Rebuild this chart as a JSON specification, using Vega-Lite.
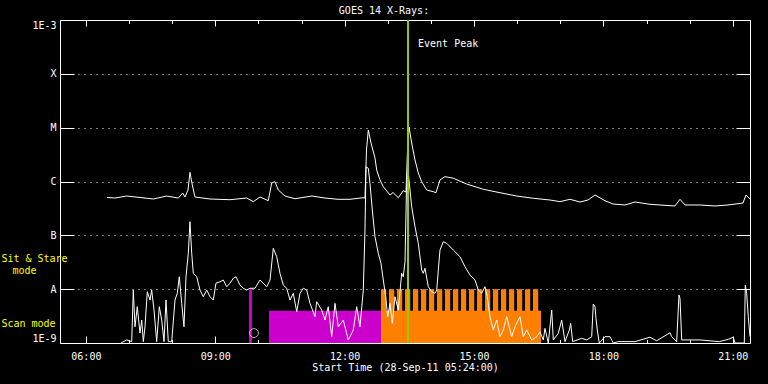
{
  "$schema": "https://vega.github.io/schema/vega-lite/v6.json",
  "width": 690,
  "height": 323,
  "autosize": "none",
  "padding": {"left": 60, "top": 20, "right": 18, "bottom": 41},
  "background": "black",
  "config": {
    "view": {"stroke": "white", "strokeWidth": 1},
    "font": "DejaVu Sans Mono",
    "axis": {"labelColor": "white", "tickColor": "white", "titleColor": "white", "labelFont": "DejaVu Sans Mono", "titleFont": "DejaVu Sans Mono", "labelFontSize": 10, "titleFontSize": 10, "titleFontWeight": "normal", "domain": false, "grid": false, "tickWidth": 1}
  },
  "title": {"text": "GOES 14 X-Rays:", "color": "white", "fontSize": 10, "fontWeight": "normal", "font": "DejaVu Sans Mono", "anchor": "middle", "offset": 3, "dx": -21},
  "datasets": {
    "flux": [
      {"ch": "long", "t": 6.490, "f": 5.05e-7}, {"ch": "long", "t": 6.675, "f": 4.93e-7}, {"ch": "long", "t": 6.947, "f": 5.37e-7}, {"ch": "long", "t": 7.255, "f": 5.05e-7}, {"ch": "long", "t": 7.563, "f": 4.73e-7}, {"ch": "long", "t": 7.874, "f": 5.37e-7}, {"ch": "long", "t": 8.143, "f": 4.93e-7}, {"ch": "long", "t": 8.245, "f": 6.11e-7}, {"ch": "long", "t": 8.299, "f": 5.15e-7}, {"ch": "long", "t": 8.368, "f": 6.95e-7}, {"ch": "long", "t": 8.414, "f": 1.48e-6}, {"ch": "long", "t": 8.468, "f": 8.61e-7}, {"ch": "long", "t": 8.530, "f": 5.15e-7}, {"ch": "long", "t": 8.878, "f": 4.73e-7}, {"ch": "long", "t": 9.342, "f": 4.59e-7}, {"ch": "long", "t": 9.729, "f": 4.93e-7}, {"ch": "long", "t": 9.882, "f": 4.22e-7}, {"ch": "long", "t": 10.038, "f": 5.15e-7}, {"ch": "long", "t": 10.230, "f": 4.40e-7}, {"ch": "long", "t": 10.309, "f": 9.38e-7}, {"ch": "long", "t": 10.385, "f": 9.91e-7}, {"ch": "long", "t": 10.462, "f": 6.95e-7}, {"ch": "long", "t": 10.617, "f": 5.37e-7}, {"ch": "long", "t": 10.849, "f": 4.79e-7}, {"ch": "long", "t": 11.243, "f": 5.37e-7}, {"ch": "long", "t": 11.545, "f": 4.93e-7}, {"ch": "long", "t": 11.846, "f": 4.67e-7}, {"ch": "long", "t": 12.125, "f": 4.67e-7}, {"ch": "long", "t": 12.426, "f": 5.00e-7}, {"ch": "long", "t": 12.472, "f": 4.93e-7}, {"ch": "long", "t": 12.507, "f": 3.85e-6}, {"ch": "long", "t": 12.549, "f": 9.04e-6}, {"ch": "long", "t": 12.612, "f": 5.19e-6}, {"ch": "long", "t": 12.704, "f": 2.73e-6}, {"ch": "long", "t": 12.744, "f": 1.63e-6}, {"ch": "long", "t": 12.820, "f": 1.07e-6}, {"ch": "long", "t": 12.897, "f": 8.00e-7}, {"ch": "long", "t": 13.052, "f": 5.61e-7}, {"ch": "long", "t": 13.122, "f": 6.24e-7}, {"ch": "long", "t": 13.245, "f": 5.00e-7}, {"ch": "long", "t": 13.360, "f": 6.75e-7}, {"ch": "long", "t": 13.423, "f": 6.38e-7}, {"ch": "long", "t": 13.458, "f": 3.85e-6}, {"ch": "long", "t": 13.493, "f": 1.03e-5}, {"ch": "long", "t": 13.555, "f": 5.19e-6}, {"ch": "long", "t": 13.632, "f": 2.51e-6}, {"ch": "long", "t": 13.708, "f": 1.44e-6}, {"ch": "long", "t": 13.787, "f": 9.91e-7}, {"ch": "long", "t": 13.903, "f": 6.95e-7}, {"ch": "long", "t": 14.056, "f": 6.46e-7}, {"ch": "long", "t": 14.119, "f": 6.19e-7}, {"ch": "long", "t": 14.211, "f": 1.07e-6}, {"ch": "long", "t": 14.327, "f": 1.23e-6}, {"ch": "long", "t": 14.520, "f": 1.15e-6}, {"ch": "long", "t": 14.831, "f": 8.97e-7}, {"ch": "long", "t": 15.216, "f": 7.16e-7}, {"ch": "long", "t": 15.603, "f": 6.19e-7}, {"ch": "long", "t": 15.990, "f": 5.37e-7}, {"ch": "long", "t": 16.375, "f": 4.88e-7}, {"ch": "long", "t": 16.762, "f": 4.53e-7}, {"ch": "long", "t": 16.994, "f": 4.22e-7}, {"ch": "long", "t": 17.226, "f": 4.67e-7}, {"ch": "long", "t": 17.458, "f": 4.16e-7}, {"ch": "long", "t": 17.643, "f": 4.53e-7}, {"ch": "long", "t": 17.806, "f": 5.61e-7}, {"ch": "long", "t": 18.037, "f": 4.40e-7}, {"ch": "long", "t": 18.223, "f": 3.82e-7}, {"ch": "long", "t": 18.501, "f": 3.66e-7}, {"ch": "long", "t": 18.733, "f": 4.16e-7}, {"ch": "long", "t": 19.081, "f": 3.77e-7}, {"ch": "long", "t": 19.429, "f": 3.61e-7}, {"ch": "long", "t": 19.661, "f": 3.51e-7}, {"ch": "long", "t": 19.777, "f": 4.67e-7}, {"ch": "long", "t": 19.893, "f": 3.66e-7}, {"ch": "long", "t": 20.240, "f": 3.66e-7}, {"ch": "long", "t": 20.588, "f": 3.51e-7}, {"ch": "long", "t": 20.890, "f": 3.66e-7}, {"ch": "long", "t": 21.237, "f": 3.98e-7}, {"ch": "long", "t": 21.307, "f": 5.61e-7}, {"ch": "long", "t": 21.400, "f": 4.73e-7},
      {"ch": "short", "t": 6.815, "f": 1.0e-9}, {"ch": "short", "t": 6.947, "f": 1.14e-9}, {"ch": "short", "t": 7.063, "f": 1.06e-9}, {"ch": "short", "t": 7.100, "f": 9.64e-9}, {"ch": "short", "t": 7.139, "f": 2.00e-9}, {"ch": "short", "t": 7.192, "f": 4.72e-9}, {"ch": "short", "t": 7.255, "f": 1.53e-9}, {"ch": "short", "t": 7.295, "f": 2.67e-9}, {"ch": "short", "t": 7.332, "f": 1.06e-9}, {"ch": "short", "t": 7.371, "f": 2.00e-9}, {"ch": "short", "t": 7.424, "f": 8.97e-9}, {"ch": "short", "t": 7.487, "f": 6.28e-9}, {"ch": "short", "t": 7.526, "f": 9.64e-9}, {"ch": "short", "t": 7.580, "f": 4.10e-9}, {"ch": "short", "t": 7.642, "f": 1.06e-9}, {"ch": "short", "t": 7.703, "f": 4.72e-9}, {"ch": "short", "t": 7.758, "f": 2.67e-9}, {"ch": "short", "t": 7.812, "f": 1.06e-9}, {"ch": "short", "t": 7.858, "f": 6.28e-9}, {"ch": "short", "t": 7.911, "f": 1.06e-9}, {"ch": "short", "t": 7.990, "f": 1.06e-9}, {"ch": "short", "t": 8.067, "f": 6.28e-9}, {"ch": "short", "t": 8.120, "f": 8.37e-9}, {"ch": "short", "t": 8.166, "f": 1.70e-8}, {"ch": "short", "t": 8.222, "f": 5.46e-9}, {"ch": "short", "t": 8.275, "f": 2.00e-9}, {"ch": "short", "t": 8.322, "f": 1.70e-8}, {"ch": "short", "t": 8.375, "f": 4.63e-8}, {"ch": "short", "t": 8.414, "f": 1.79e-7}, {"ch": "short", "t": 8.454, "f": 4.63e-8}, {"ch": "short", "t": 8.491, "f": 1.97e-8}, {"ch": "short", "t": 8.570, "f": 1.70e-8}, {"ch": "short", "t": 8.646, "f": 9.64e-9}, {"ch": "short", "t": 8.723, "f": 7.24e-9}, {"ch": "short", "t": 8.802, "f": 9.64e-9}, {"ch": "short", "t": 8.878, "f": 7.24e-9}, {"ch": "short", "t": 8.955, "f": 6.28e-9}, {"ch": "short", "t": 9.017, "f": 1.29e-8}, {"ch": "short", "t": 9.110, "f": 1.37e-8}, {"ch": "short", "t": 9.187, "f": 1.48e-8}, {"ch": "short", "t": 9.265, "f": 1.11e-8}, {"ch": "short", "t": 9.342, "f": 1.29e-8}, {"ch": "short", "t": 9.419, "f": 1.59e-8}, {"ch": "short", "t": 9.481, "f": 1.70e-8}, {"ch": "short", "t": 9.574, "f": 1.19e-8}, {"ch": "short", "t": 9.650, "f": 1.04e-8}, {"ch": "short", "t": 9.729, "f": 9.64e-9}, {"ch": "short", "t": 9.806, "f": 1.04e-8}, {"ch": "short", "t": 9.922, "f": 1.04e-8}, {"ch": "short", "t": 10.038, "f": 1.48e-8}, {"ch": "short", "t": 10.193, "f": 1.11e-8}, {"ch": "short", "t": 10.270, "f": 1.48e-8}, {"ch": "short", "t": 10.346, "f": 5.74e-8}, {"ch": "short", "t": 10.425, "f": 4.01e-8}, {"ch": "short", "t": 10.501, "f": 1.97e-8}, {"ch": "short", "t": 10.578, "f": 1.19e-8}, {"ch": "short", "t": 10.657, "f": 1.04e-8}, {"ch": "short", "t": 10.733, "f": 6.28e-9}, {"ch": "short", "t": 10.810, "f": 8.37e-9}, {"ch": "short", "t": 10.889, "f": 3.81e-9}, {"ch": "short", "t": 10.965, "f": 8.37e-9}, {"ch": "short", "t": 11.042, "f": 1.04e-8}, {"ch": "short", "t": 11.121, "f": 9.64e-9}, {"ch": "short", "t": 11.197, "f": 5.46e-9}, {"ch": "short", "t": 11.313, "f": 3.08e-9}, {"ch": "short", "t": 11.352, "f": 5.85e-9}, {"ch": "short", "t": 11.468, "f": 4.10e-9}, {"ch": "short", "t": 11.545, "f": 2.67e-9}, {"ch": "short", "t": 11.621, "f": 4.72e-9}, {"ch": "short", "t": 11.700, "f": 1.31e-9}, {"ch": "short", "t": 11.777, "f": 5.46e-9}, {"ch": "short", "t": 11.853, "f": 2.00e-9}, {"ch": "short", "t": 11.969, "f": 2.67e-9}, {"ch": "short", "t": 12.085, "f": 1.14e-9}, {"ch": "short", "t": 12.201, "f": 1.74e-9}, {"ch": "short", "t": 12.280, "f": 4.72e-9}, {"ch": "short", "t": 12.356, "f": 2.00e-9}, {"ch": "short", "t": 12.433, "f": 9.64e-9}, {"ch": "short", "t": 12.472, "f": 1.26e-7}, {"ch": "short", "t": 12.496, "f": 1.88e-6}, {"ch": "short", "t": 12.549, "f": 1.76e-6}, {"ch": "short", "t": 12.588, "f": 9.25e-7}, {"ch": "short", "t": 12.642, "f": 2.95e-7}, {"ch": "short", "t": 12.704, "f": 9.42e-8}, {"ch": "short", "t": 12.781, "f": 4.63e-8}, {"ch": "short", "t": 12.843, "f": 3.02e-8}, {"ch": "short", "t": 12.897, "f": 1.48e-8}, {"ch": "short", "t": 12.952, "f": 7.24e-9}, {"ch": "short", "t": 12.999, "f": 3.08e-9}, {"ch": "short", "t": 13.052, "f": 5.46e-9}, {"ch": "short", "t": 13.105, "f": 2.32e-9}, {"ch": "short", "t": 13.168, "f": 7.24e-9}, {"ch": "short", "t": 13.245, "f": 4.10e-9}, {"ch": "short", "t": 13.323, "f": 1.97e-8}, {"ch": "short", "t": 13.360, "f": 1.70e-8}, {"ch": "short", "t": 13.400, "f": 3.24e-8}, {"ch": "short", "t": 13.435, "f": 7.57e-7}, {"ch": "short", "t": 13.469, "f": 1.63e-6}, {"ch": "short", "t": 13.555, "f": 3.40e-7}, {"ch": "short", "t": 13.632, "f": 1.45e-7}, {"ch": "short", "t": 13.708, "f": 7.11e-8}, {"ch": "short", "t": 13.787, "f": 2.27e-8}, {"ch": "short", "t": 13.824, "f": 1.97e-8}, {"ch": "short", "t": 13.864, "f": 2.44e-8}, {"ch": "short", "t": 13.940, "f": 1.11e-8}, {"ch": "short", "t": 14.019, "f": 8.97e-9}, {"ch": "short", "t": 14.096, "f": 8.37e-9}, {"ch": "short", "t": 14.135, "f": 9.64e-9}, {"ch": "short", "t": 14.211, "f": 5.33e-8}, {"ch": "short", "t": 14.288, "f": 7.61e-8}, {"ch": "short", "t": 14.367, "f": 7.11e-8}, {"ch": "short", "t": 14.520, "f": 5.33e-8}, {"ch": "short", "t": 14.675, "f": 4.01e-8}, {"ch": "short", "t": 14.791, "f": 2.61e-8}, {"ch": "short", "t": 14.907, "f": 1.83e-8}, {"ch": "short", "t": 15.023, "f": 1.48e-8}, {"ch": "short", "t": 15.100, "f": 9.64e-9}, {"ch": "short", "t": 15.178, "f": 8.37e-9}, {"ch": "short", "t": 15.255, "f": 1.11e-8}, {"ch": "short", "t": 15.308, "f": 7.24e-9}, {"ch": "short", "t": 15.371, "f": 3.08e-9}, {"ch": "short", "t": 15.447, "f": 1.74e-9}, {"ch": "short", "t": 15.526, "f": 2.67e-9}, {"ch": "short", "t": 15.603, "f": 1.31e-9}, {"ch": "short", "t": 15.679, "f": 1.74e-9}, {"ch": "short", "t": 15.758, "f": 3.08e-9}, {"ch": "short", "t": 15.874, "f": 1.31e-9}, {"ch": "short", "t": 15.951, "f": 2.00e-9}, {"ch": "short", "t": 16.067, "f": 3.08e-9}, {"ch": "short", "t": 16.143, "f": 1.31e-9}, {"ch": "short", "t": 16.222, "f": 1.74e-9}, {"ch": "short", "t": 16.338, "f": 1.14e-9}, {"ch": "short", "t": 16.454, "f": 1.31e-9}, {"ch": "short", "t": 16.530, "f": 1.62e-9}, {"ch": "short", "t": 16.607, "f": 1.14e-9}, {"ch": "short", "t": 16.646, "f": 1.87e-9}, {"ch": "short", "t": 16.723, "f": 1.0e-9}, {"ch": "short", "t": 16.802, "f": 4.10e-9}, {"ch": "short", "t": 16.839, "f": 1.14e-9}, {"ch": "short", "t": 16.955, "f": 1.51e-9}, {"ch": "short", "t": 17.033, "f": 2.67e-9}, {"ch": "short", "t": 17.110, "f": 1.06e-9}, {"ch": "short", "t": 17.210, "f": 1.74e-9}, {"ch": "short", "t": 17.242, "f": 2.32e-9}, {"ch": "short", "t": 17.288, "f": 1.06e-9}, {"ch": "short", "t": 17.497, "f": 1.22e-9}, {"ch": "short", "t": 17.613, "f": 1.14e-9}, {"ch": "short", "t": 17.729, "f": 1.31e-9}, {"ch": "short", "t": 17.766, "f": 5.30e-9}, {"ch": "short", "t": 17.806, "f": 4.72e-9}, {"ch": "short", "t": 17.829, "f": 2.87e-9}, {"ch": "short", "t": 17.859, "f": 1.74e-9}, {"ch": "short", "t": 17.905, "f": 1.0e-9}, {"ch": "short", "t": 18.037, "f": 1.31e-9}, {"ch": "short", "t": 18.153, "f": 1.31e-9}, {"ch": "short", "t": 18.230, "f": 1.0e-9}, {"ch": "short", "t": 18.346, "f": 1.06e-9}, {"ch": "short", "t": 18.733, "f": 1.06e-9}, {"ch": "short", "t": 19.081, "f": 1.28e-9}, {"ch": "short", "t": 19.236, "f": 1.10e-9}, {"ch": "short", "t": 19.545, "f": 1.55e-9}, {"ch": "short", "t": 19.584, "f": 1.31e-9}, {"ch": "short", "t": 19.700, "f": 1.06e-9}, {"ch": "short", "t": 19.753, "f": 7.78e-9}, {"ch": "short", "t": 19.777, "f": 6.76e-9}, {"ch": "short", "t": 19.816, "f": 1.14e-9}, {"ch": "short", "t": 20.048, "f": 1.14e-9}, {"ch": "short", "t": 20.240, "f": 1.14e-9}, {"ch": "short", "t": 20.688, "f": 1.06e-9}, {"ch": "short", "t": 20.897, "f": 1.17e-9}, {"ch": "short", "t": 21.012, "f": 1.28e-9}, {"ch": "short", "t": 21.052, "f": 1.0e-9}, {"ch": "short", "t": 21.268, "f": 1.0e-9}, {"ch": "short", "t": 21.291, "f": 1.19e-8}, {"ch": "short", "t": 21.323, "f": 8.37e-9}, {"ch": "short", "t": 21.360, "f": 3.08e-9}, {"ch": "short", "t": 21.400, "f": 1.31e-9}
    ],
    "modes": [
      {"obs": "first", "t0": 9.783, "t1": 9.852, "top": 1e-8, "base": 1e-9},
      {"obs": "first", "t0": 10.246, "t1": 12.843, "top": 3.98e-9, "base": 1e-9},
      {"obs": "second", "t0": 12.843, "t1": 16.554, "top": 3.98e-9, "base": 1e-9},
      {"obs": "second", "t0": 12.843, "t1": 12.964, "top": 1e-8, "base": 1e-9},
      {"obs": "second", "t0": 13.029, "t1": 13.150, "top": 1e-8, "base": 1e-9},
      {"obs": "second", "t0": 13.214, "t1": 13.335, "top": 1e-8, "base": 1e-9},
      {"obs": "second", "t0": 13.400, "t1": 13.521, "top": 1e-8, "base": 1e-9},
      {"obs": "second", "t0": 13.585, "t1": 13.706, "top": 1e-8, "base": 1e-9},
      {"obs": "second", "t0": 13.771, "t1": 13.892, "top": 1e-8, "base": 1e-9},
      {"obs": "second", "t0": 13.956, "t1": 14.077, "top": 1e-8, "base": 1e-9},
      {"obs": "second", "t0": 14.142, "t1": 14.263, "top": 1e-8, "base": 1e-9},
      {"obs": "second", "t0": 14.327, "t1": 14.448, "top": 1e-8, "base": 1e-9},
      {"obs": "second", "t0": 14.513, "t1": 14.634, "top": 1e-8, "base": 1e-9},
      {"obs": "second", "t0": 14.698, "t1": 14.819, "top": 1e-8, "base": 1e-9},
      {"obs": "second", "t0": 14.884, "t1": 15.005, "top": 1e-8, "base": 1e-9},
      {"obs": "second", "t0": 15.069, "t1": 15.190, "top": 1e-8, "base": 1e-9},
      {"obs": "second", "t0": 15.255, "t1": 15.376, "top": 1e-8, "base": 1e-9},
      {"obs": "second", "t0": 15.440, "t1": 15.561, "top": 1e-8, "base": 1e-9},
      {"obs": "second", "t0": 15.626, "t1": 15.747, "top": 1e-8, "base": 1e-9},
      {"obs": "second", "t0": 15.811, "t1": 15.932, "top": 1e-8, "base": 1e-9},
      {"obs": "second", "t0": 15.997, "t1": 16.118, "top": 1e-8, "base": 1e-9},
      {"obs": "second", "t0": 16.182, "t1": 16.303, "top": 1e-8, "base": 1e-9},
      {"obs": "second", "t0": 16.368, "t1": 16.489, "top": 1e-8, "base": 1e-9}
    ],
    "labels": [
      {"label": "Sit & Stare", "t": 4.809, "f": 3.71e-8},
      {"label": "mode", "t": 4.577, "f": 2.17e-8},
      {"label": "Scan mode", "t": 4.670, "f": 2.30e-9}
    ],
    "event": [
      {"label": "Event Peak", "t": 13.47, "f": 3.58e-4}
    ],
    "marker": [
      {"t": 9.898, "f": 1.53e-9}
    ]
  },
  "layer": [
    {
      "data": {"name": "modes"},
      "mark": {"type": "rect"},
      "encoding": {
        "x": {"field": "t0", "type": "quantitative", "scale": {"domain": [5.4, 21.4], "nice": false, "zero": false},
          "axis": {"orient": "bottom", "values": [6, 7, 8, 9, 10, 11, 12, 13, 14, 15, 16, 17, 18, 19, 20, 21],
            "tickSize": {"condition": {"test": "datum.value % 3 == 0", "value": -7}, "value": -3.5},
            "labelExpr": "datum.value % 3 == 0 ? ((datum.value < 10 ? '0' : '') + datum.value + ':00') : ''",
            "labelPadding": 15, "labelFlush": false, "labelOverlap": false,
            "title": "Start Time (28-Sep-11 05:24:00)", "titlePadding": -2}},
        "x2": {"field": "t1"},
        "y": {"field": "top", "type": "quantitative", "scale": {"type": "log", "domain": [1e-9, 1e-3], "nice": false},
          "axis": {"orient": "left", "values": [1e-9, 1e-8, 1e-7, 1e-6, 1e-5, 1e-4, 1e-3],
            "labelExpr": "['1E-9','A','B','C','M','X','1E-3'][round(log(datum.value)/LN10)+9]",
            "tickSize": -14, "labelPadding": 18, "labelFlush": true, "grid": true, "gridDash": [1, 5], "gridColor": "white", "gridWidth": 1, "gridOpacity": 1, "title": null}},
        "y2": {"field": "base"},
        "color": {"field": "obs", "type": "nominal", "scale": {"domain": ["first", "second"], "range": ["#cc00cc", "#ff8000"]}, "legend": null}
      }
    },
    {
      "data": {"name": "flux"},
      "mark": {"type": "line", "color": "white", "strokeWidth": 1, "interpolate": "linear"},
      "encoding": {
        "x": {"field": "t", "type": "quantitative",
          "axis": {"orient": "top", "values": [6, 7, 8, 9, 10, 11, 12, 13, 14, 15, 16, 17, 18, 19, 20, 21],
            "tickSize": {"condition": {"test": "datum.value % 3 == 0", "value": -6}, "value": -3.5},
            "labels": false, "title": null}},
        "y": {"field": "f", "type": "quantitative",
          "axis": {"orient": "right", "values": [1e-9, 1e-8, 1e-7, 1e-6, 1e-5, 1e-4, 1e-3], "tickSize": -14, "labels": false, "title": null}},
        "detail": {"field": "ch"},
        "order": {"field": "t"}
      }
    },
    {
      "data": {"name": "event"},
      "mark": {"type": "rule", "color": "#99cc00", "strokeWidth": 2},
      "encoding": {
        "x": {"field": "t", "type": "quantitative", "axis": null}
      }
    },
    {
      "data": {"name": "event"},
      "mark": {"type": "text", "color": "white", "fontSize": 10, "font": "DejaVu Sans Mono", "align": "left", "baseline": "middle", "dx": 10},
      "encoding": {
        "x": {"field": "t", "type": "quantitative", "axis": null},
        "y": {"field": "f", "type": "quantitative", "axis": null},
        "text": {"field": "label"}
      }
    },
    {
      "data": {"name": "labels"},
      "mark": {"type": "text", "color": "#ffff00", "fontSize": 10, "font": "DejaVu Sans Mono", "align": "center", "baseline": "middle"},
      "encoding": {
        "x": {"field": "t", "type": "quantitative", "axis": null},
        "y": {"field": "f", "type": "quantitative", "axis": null},
        "text": {"field": "label"}
      }
    },
    {
      "data": {"name": "marker"},
      "mark": {"type": "point", "shape": "circle", "filled": false, "color": "white", "strokeWidth": 1, "size": 80},
      "encoding": {
        "x": {"field": "t", "type": "quantitative", "axis": null},
        "y": {"field": "f", "type": "quantitative", "axis": null}
      }
    }
  ],
  "resolve": {"axis": {"x": "independent", "y": "independent"}}
}
